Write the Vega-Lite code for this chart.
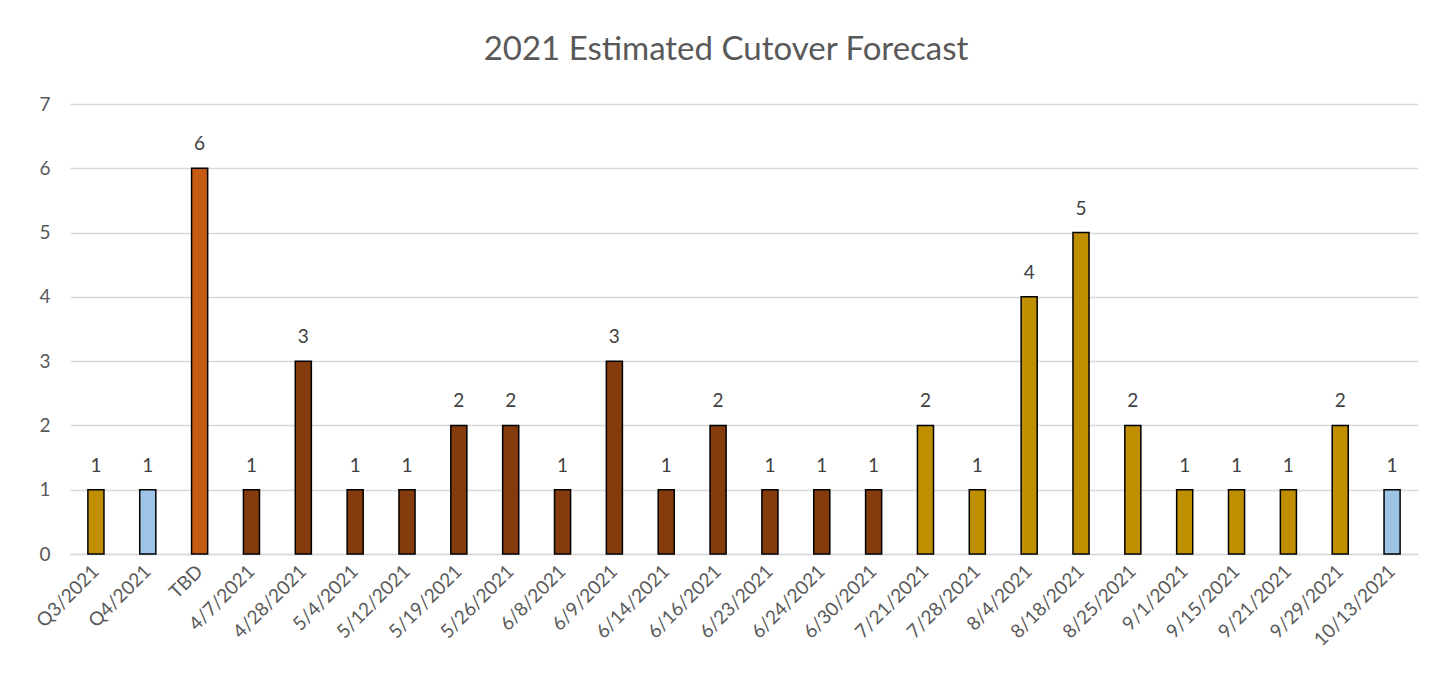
{
  "$schema": "https://vega.github.io/schema/vega-lite/v6.json",
  "autosize": {"type": "none"},
  "width": 1348,
  "height": 450,
  "padding": {"left": 70, "top": 104, "right": 31, "bottom": 132},
  "background": "white",
  "title": {
    "text": "2021 Estimated Cutover Forecast",
    "font": "Lato",
    "fontSize": 33,
    "fontWeight": "normal",
    "color": "#595959",
    "anchor": "middle",
    "baseline": "alphabetic",
    "offset": 2,
    "dx": -18
  },
  "data": {
    "values": [
      {"date": "Q3/2021", "count": 1, "series": "Gold"},
      {"date": "Q4/2021", "count": 1, "series": "Blue"},
      {"date": "TBD", "count": 6, "series": "Orange"},
      {"date": "4/7/2021", "count": 1, "series": "Brown"},
      {"date": "4/28/2021", "count": 3, "series": "Brown"},
      {"date": "5/4/2021", "count": 1, "series": "Brown"},
      {"date": "5/12/2021", "count": 1, "series": "Brown"},
      {"date": "5/19/2021", "count": 2, "series": "Brown"},
      {"date": "5/26/2021", "count": 2, "series": "Brown"},
      {"date": "6/8/2021", "count": 1, "series": "Brown"},
      {"date": "6/9/2021", "count": 3, "series": "Brown"},
      {"date": "6/14/2021", "count": 1, "series": "Brown"},
      {"date": "6/16/2021", "count": 2, "series": "Brown"},
      {"date": "6/23/2021", "count": 1, "series": "Brown"},
      {"date": "6/24/2021", "count": 1, "series": "Brown"},
      {"date": "6/30/2021", "count": 1, "series": "Brown"},
      {"date": "7/21/2021", "count": 2, "series": "Gold"},
      {"date": "7/28/2021", "count": 1, "series": "Gold"},
      {"date": "8/4/2021", "count": 4, "series": "Gold"},
      {"date": "8/18/2021", "count": 5, "series": "Gold"},
      {"date": "8/25/2021", "count": 2, "series": "Gold"},
      {"date": "9/1/2021", "count": 1, "series": "Gold"},
      {"date": "9/15/2021", "count": 1, "series": "Gold"},
      {"date": "9/21/2021", "count": 1, "series": "Gold"},
      {"date": "9/29/2021", "count": 2, "series": "Gold"},
      {"date": "10/13/2021", "count": 1, "series": "Blue"}
    ]
  },
  "encoding": {
    "x": {
      "field": "date",
      "type": "nominal",
      "sort": null,
      "scale": {"paddingInner": 0.69, "paddingOuter": 0.345},
      "axis": {
        "title": null,
        "labelAngle": -45,
        "labelAlign": "right",
        "labelBaseline": "middle",
        "labelFont": "Lato",
        "labelFontSize": 19,
        "labelColor": "#595959",
        "labelPadding": 14,
        "ticks": false,
        "domainColor": "#D9D9D9",
        "domainWidth": 1.5
      }
    },
    "y": {
      "field": "count",
      "type": "quantitative",
      "scale": {"domain": [0, 7], "nice": false},
      "axis": {
        "title": null,
        "values": [0, 1, 2, 3, 4, 5, 6, 7],
        "labelFont": "Lato",
        "labelFontSize": 19,
        "labelColor": "#595959",
        "labelPadding": 20,
        "ticks": false,
        "domain": false,
        "gridColor": "#D9D9D9",
        "gridWidth": 1.5
      }
    }
  },
  "layer": [
    {
      "mark": {"type": "bar", "stroke": "black", "strokeWidth": 1.5},
      "encoding": {
        "color": {
          "field": "series",
          "type": "nominal",
          "scale": {
            "domain": ["Gold", "Blue", "Orange", "Brown"],
            "range": ["#BF8F00", "#9DC3E6", "#C55A11", "#843C0C"]
          },
          "legend": null
        }
      }
    },
    {
      "mark": {"type": "text", "baseline": "bottom", "dy": -14, "font": "Lato", "fontSize": 19, "color": "#404040"},
      "encoding": {
        "text": {"field": "count", "type": "quantitative"}
      }
    }
  ],
  "config": {
    "view": {"stroke": null}
  }
}
